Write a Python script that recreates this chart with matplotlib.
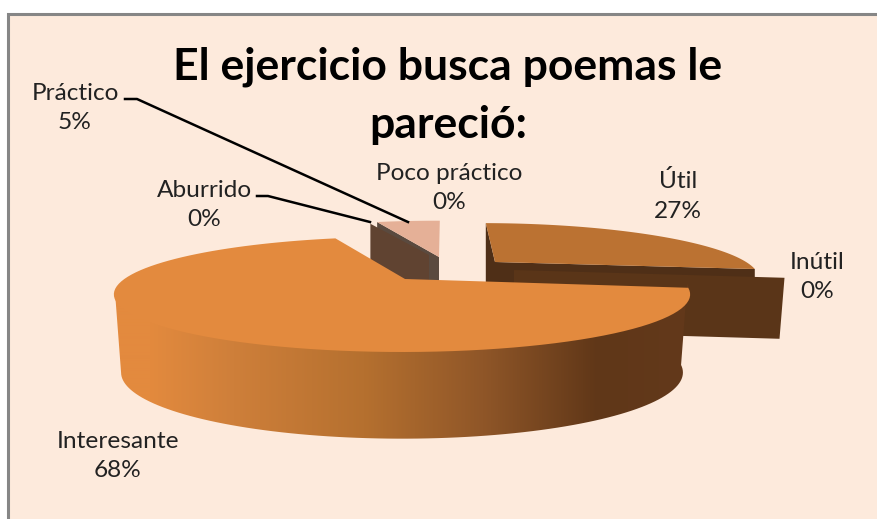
import numpy as np
import matplotlib
matplotlib.use("Agg")
import matplotlib.pyplot as plt
from matplotlib.patches import Polygon

labels = ["Útil", "Inútil", "Interesante", "Aburrido", "Práctico", "Poco práctico"]
values = [27, 0, 68, 0, 5, 0]
percent_text = ["27%", "0%", "68%", "0%", "5%", "0%"]

# Pie drawn clockwise, Interesante starts just below east
START = 89.2
CX, CY, RX, RY = 402, 280, 279, 54
P = 0.25
BOT_CY, BOT_RX, BOT_RY = 356, 272, 62

angles = [START]
for v in values:
    angles.append(angles[-1] - v * 3.6)


def project(theta, cx, cy, rx, ry, lean=0):
    t = np.radians(theta)
    k = 1 / (1 + P * np.sin(t))
    return cx + rx * np.cos(t) * k + lean * (k - 1), cy - ry * np.sin(t) * k


def arc(a, b, cx, cy, rx, ry, lean=0, n=100):
    x, y = project(np.linspace(a, b, n), cx, cy, rx, ry, lean)
    return np.column_stack([x, y])


fig = plt.figure(figsize=(8.78, 5.19), dpi=100, facecolor="white")
ax = fig.add_axes([0, 0, 1, 1])
ax.set_xlim(0, 878)
ax.set_ylim(519, 0)
ax.axis("off")

ax.add_patch(Polygon([(8, 14), (890, 14), (890, 530), (8, 530)], fc="#fdeadc", ec="#868686", lw=2.2))


def wedge_top(i, apex, sx, sy, color, lean=0):
    a, b = angles[i], angles[i + 1]
    pts = arc(a, b, apex[0], apex[1], RX * sx, RY * sy, lean)
    ax.add_patch(Polygon(np.vstack([[apex], pts]), fc=color, ec="none"))


def radial_face(theta, apex, sx, sy, h, color, lean=0, inset=0):
    ox, oy = project(theta, apex[0], apex[1], RX * sx, RY * sy, lean)
    ax.add_patch(Polygon([apex, (ox, oy), (ox - inset, oy + h), (apex[0], apex[1] + h)], fc=color, ec="none"))


# Práctico
p_apex = (439, 257)
radial_face(angles[4], p_apex, 0.9, 0.84, 56, "#5a4a3f", lean=10)
wedge_top(4, p_apex, 0.9, 0.84, "#e5b097", lean=10)

# Aburrido (zero slice, only its cut face shows)
radial_face(angles[3], (429, 255), 0.88, 0.75, 60, "#604331")

# Útil
u_apex = (495, 262)
radial_face(angles[0], u_apex, 0.9, 0.9, 60, "#4f2f17", lean=60)
radial_face(angles[1], u_apex, 0.9, 0.9, 60, "#4f2f17", lean=60)
wedge_top(0, u_apex, 0.9, 0.9, "#bb7232", lean=60)

# Inútil (zero slice)
radial_face(angles[1], (514, 270), 0.945, 1.0, 61, "#5a3518", inset=5)

# Interesante wall with gradient, top edge tucked under the top face
i_start, i_end = angles[2], angles[3]
top = arc(194.5, 360 + i_start, CX, CY - 4, RX - 1, RY)
bot = arc(360 + i_start, 194.5, CX, BOT_CY, BOT_RX, BOT_RY)
wall = Polygon(np.vstack([top, bot]), fc="none", ec="none")
ax.add_patch(wall)

stops_x = [115, 150, 234, 364, 483, 597, 690]
stops_c = ["#e38a3e", "#e38a3e", "#ce7f3a", "#b5702f", "#8f5628", "#603718", "#63391b"]
rgb = np.array([matplotlib.colors.to_rgb(c) for c in stops_c])
xs = np.arange(110, 695)
grad = np.stack([np.interp(xs, stops_x, rgb[:, j]) for j in range(3)], axis=-1)[None, :, :]
im = ax.imshow(grad, extent=(110, 695, 445, 270), aspect="auto", interpolation="bilinear", zorder=1.5)
im.set_clip_path(wall)
ax.set_xlim(0, 878)
ax.set_ylim(519, 0)

# Interesante top
pts = arc(i_start, i_end, CX, CY, RX, RY)
ax.add_patch(Polygon(np.vstack([[(405, 279)], pts]), fc="#e38a3e", ec="none", zorder=2))

# Leader lines
ax.plot([125, 137, 408], [99, 99, 222], color="black", lw=1.8, zorder=3)
ax.plot([257, 268, 370], [196, 196, 222], color="black", lw=1.8, zorder=3)

# Title and labels
ax.text(448, 96, "El ejercicio busca poemas le\npareció:", ha="center", va="center",
        fontsize=32, fontweight="bold", family="Lato", linespacing=1.55, color="black", zorder=4)

label_pos = [(678, 196), (817, 277), (118, 456), (204, 205), (75, 108), (449, 188)]
for name, pct, (x, y) in zip(labels, percent_text, label_pos):
    ax.text(x, y, name + "\n" + pct, ha="center", va="center", fontsize=17.6,
            family="Lato", color="#222222", linespacing=1.52, zorder=4)

fig.savefig("out.png", dpi=100, facecolor="white")
